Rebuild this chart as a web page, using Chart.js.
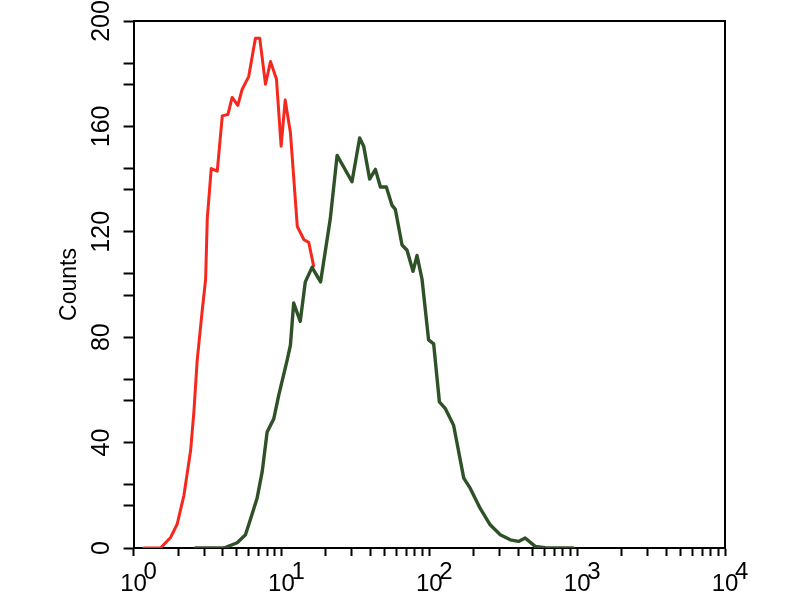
<!DOCTYPE html>
<html>
<head>
<meta charset="utf-8">
<script src="https://cdn.jsdelivr.net/npm/chart.js@4.4.0/dist/chart.umd.min.js"></script>
<style>
html,body{margin:0;padding:0;background:#fff;}
#wrap{width:800px;height:600px;}
</style>
</head>
<body>
<div id="wrap"><canvas id="c" width="800" height="600"></canvas></div>
<script>
// Control (red) histogram
const redX = [1.17,1.52,1.78,1.97,2.19,2.43,2.56,2.69,2.91,3.07,3.15,3.35,3.68,3.98,4.34,4.64,5.07,5.42,6.01,6.67,7.13,7.80,8.43,9.25,9.95,10.6,11.5,12.8,14.2,15.3,16.5];
const redY = [0,0,4,9,20,37,52,71,90,102,125,144,143,164,164.5,171,168,174,179,193.5,193.5,176,184.6,178,152.5,170,157.6,122,117,116,107];
// Sample (green) histogram
const greenX = [2.62,3.31,4.08,5.02,5.71,6.18,6.85,7.41,8.00,8.87,9.59,10.9,11.5,12.1,13.4,14.5,16.1,18.4,21.4,23.8,30.0,33.8,36.0,39.5,43.2,46.7,51.2,56.0,58.9,65.4,70.7,77.6,82.6,89.3,98.9,107,117,128,146,171,189,221,258,302,353,401,445,520,624,939];
const greenY = [0,0,0,2,5,11,19,29,44,49,58,71,77,93,86,101,106.5,101,125,149,139,155.6,152.5,140,143.7,137,137,130,128.5,115,113,105,111,102,79,77.5,55.5,53,46.6,26.5,22.7,15,8.8,5,3.1,2.5,3.8,0.6,0,0];
// Axis ticks
const yMajorTicks = [0,40,80,120,160,200];
const yMinorTicks = [16,24,56,64,96,104,136,144,176,184];
const xDecades = [1,10,100,1000,10000];
const xExponents = ['0','1','2','3','4'];
const yTitle = 'Counts';

const toPts = (xs, ys) => xs.map((x, i) => ({x: x, y: ys[i]}));

const xTickValues = [];
for (let d = 0; d < xDecades.length - 1; d++) {
  for (let m = 1; m <= 9; m++) xTickValues.push(xDecades[d] * m);
}
xTickValues.push(xDecades[xDecades.length - 1]);
const yTickValues = yMajorTicks.concat(yMinorTicks).sort((a, b) => a - b);

const FONT = "'Liberation Sans', Arial, sans-serif";

new Chart(document.getElementById('c'), {
  type: 'line',
  data: {
    datasets: [
      {data: toPts(greenX, greenY), borderColor: '#2f5127', borderWidth: 3.4, borderJoinStyle: 'round', borderCapStyle: 'round', pointRadius: 0, tension: 0, fill: false, order: 0},
      {data: toPts(redX, redY), borderColor: '#f5281d', borderWidth: 3, borderJoinStyle: 'round', borderCapStyle: 'round', pointRadius: 0, tension: 0, fill: false, order: 1}
    ]
  },
  options: {
    responsive: false,
    animation: false,
    layout: {padding: {left: 56, right: 75, top: 21, bottom: 0}},
    plugins: {legend: {display: false}, tooltip: {enabled: false}},
    scales: {
      x: {
        type: 'logarithmic', position: 'bottom', min: 1, max: 10000,
        afterBuildTicks: ax => { ax.ticks = xTickValues.map(v => ({value: v})); },
        ticks: {
          autoSkip: false, maxRotation: 0, minRotation: 0, color: '#000', padding: 10,
          font: {family: FONT, size: 24, lineHeight: 0.5},
          callback: v => {
            const i = xDecades.indexOf(v);
            return i >= 0 ? ['     ' + xExponents[i], '10'] : '';
          }
        },
        grid: {drawOnChartArea: false, drawTicks: true, tickLength: 8, tickColor: '#000', tickWidth: 2},
        border: {display: true, color: '#000', width: 2}
      },
      y: {
        type: 'linear', position: 'left', min: 0, max: 200,
        afterBuildTicks: ax => { ax.ticks = yTickValues.map(v => ({value: v})); },
        ticks: {
          autoSkip: false, minRotation: 90, maxRotation: 90, crossAlign: 'center', padding: 1, color: '#000',
          font: {family: FONT, size: 25},
          callback: v => yMajorTicks.includes(v) ? String(v) : ''
        },
        title: {display: true, text: yTitle, color: '#000', font: {family: FONT, size: 23}, padding: {top: 0, bottom: 8}},
        grid: {drawOnChartArea: false, drawTicks: true, tickLength: 10, tickColor: '#000', tickWidth: 2},
        border: {display: true, color: '#000', width: 2}
      },
      xTop: {
        type: 'linear', position: 'top', display: true,
        ticks: {display: false},
        grid: {drawOnChartArea: false, drawTicks: false},
        border: {display: true, color: '#000', width: 2}
      },
      yRight: {
        type: 'linear', position: 'right', display: true,
        ticks: {display: false},
        grid: {drawOnChartArea: false, drawTicks: false},
        border: {display: true, color: '#000', width: 2}
      }
    }
  }
});
</script>
</body>
</html>
